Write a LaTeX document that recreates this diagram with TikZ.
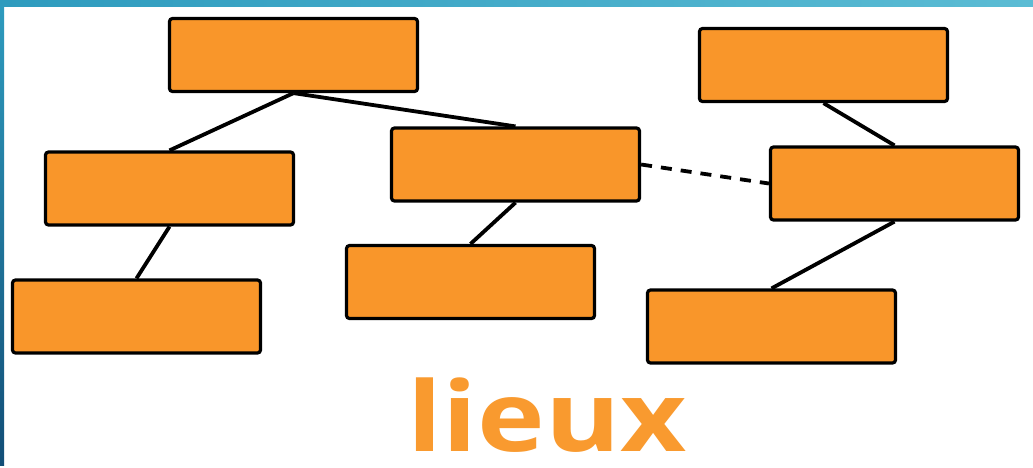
\documentclass[tikz,border=0pt]{standalone}
\usepackage{fontspec}
\newfontfamily\labfont{Open Sans}
\definecolor{boxor}{HTML}{F9962A}
\definecolor{txtor}{HTML}{F99A2F}
\definecolor{barA}{HTML}{2E9BBE}
\definecolor{barB}{HTML}{5BBCD4}
\definecolor{barC}{HTML}{124E77}
\tikzset{
  orbox/.style={draw=black, fill=boxor, line width=3.2pt, rounded corners=3pt, minimum width=248pt, minimum height=73pt, inner sep=0pt},
  link/.style={draw=black, line width=3.8pt},
  dlink/.style={link, dash pattern=on 11pt off 9pt}
}
\begin{document}
\begin{tikzpicture}[x=1pt,y=-1pt]
\useasboundingbox (0,0) rectangle (1033,467);
\fill[white] (0,0) rectangle (1033,467);
\shade[left color=barA, right color=barB] (0,0) rectangle (1033,6);
\shade[top color=barA, bottom color=barC] (0,6) rectangle (4,465);
% boxes
\node[orbox] (A) at (293.5,55) {};
\node[orbox] (B) at (823.5,65) {};
\node[orbox] (C) at (169.5,188.5) {};
\node[orbox] (D) at (515.5,164.5) {};
\node[orbox] (E) at (894.5,183.5) {};
\node[orbox] (F) at (136.5,316.5) {};
\node[orbox] (G) at (470.5,282) {};
\node[orbox] (H) at (771.5,326.5) {};
% connectors
\draw[link] (A.south) -- (C.north);
\draw[link] (A.south) -- (D.north);
\draw[link] (C.south) -- (F.north);
\draw[link] (D.south) -- (G.north);
\draw[link] (B.south) -- (E.north);
\draw[link] (E.south) -- (H.north);
\draw[dlink] (D.east) -- (E.west);
% label
\node[text=txtor, font=\labfont\bfseries\fontsize{97}{97}\selectfont, anchor=base, inner sep=0pt, xscale=1.18] (L) at (547,451) {lieux};
\end{tikzpicture}
\end{document}
